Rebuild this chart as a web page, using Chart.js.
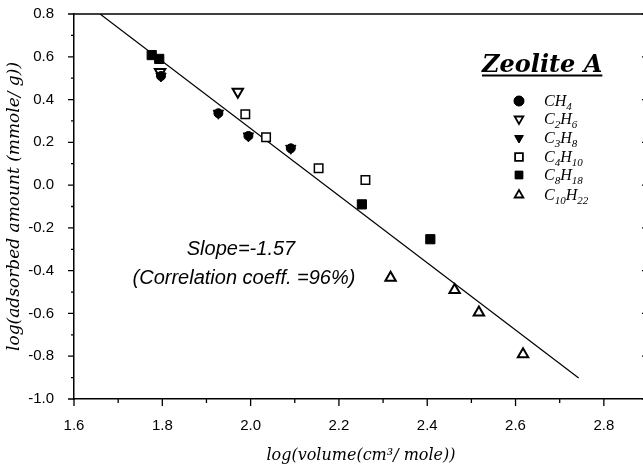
<!DOCTYPE html>
<html>
<head>
<meta charset="utf-8">
<script src="https://cdn.jsdelivr.net/npm/chart.js@4.4.0/dist/chart.umd.min.js"></script>
<style>
  html, body { margin: 0; padding: 0; background: #fff; overflow: hidden; }
  #wrap { width: 643px; height: 469px; overflow: hidden; }
</style>
</head>
<body>
<div id="wrap"><canvas id="myChart" width="656" height="469"></canvas></div>
<script>
'use strict';

// log(volume) / log(adsorbed amount)
var ch4X = [1.797, 1.927, 1.995, 2.091];
var ch4Y = [0.510, 0.336, 0.230, 0.172];
var c2h6X = [1.795, 1.971];
var c2h6Y = [0.529, 0.437];
var c3h8X = [1.797, 1.927, 1.995, 2.091];
var c3h8Y = [0.510, 0.336, 0.230, 0.172];
var c4h10X = [1.988, 2.035, 2.154, 2.260];
var c4h10Y = [0.331, 0.224, 0.079, 0.024];
var c8h18X = [1.776, 1.793, 2.252, 2.407];
var c8h18Y = [0.608, 0.590, -0.090, -0.253];
var c10h22X = [2.317, 2.462, 2.517, 2.617];
var c10h22Y = [-0.433, -0.490, -0.596, -0.791];

// fitted line ends
var fitX = [1.659, 2.743];
var fitY = [0.800, -0.902];

var legendNames = [
    [['CH', '4']],
    [['C', '2'], ['H', '6']],
    [['C', '3'], ['H', '8']],
    [['C', '4'], ['H', '10']],
    [['C', '8'], ['H', '18']],
    [['C', '10'], ['H', '22']]
];
var slopeText = ['Slope=-1.57', '(Correlation coeff. =96%)'];
var boxTitle = 'Zeolite A';

function pts(xs, ys) {
    return xs.map(function (x, i) { return { x: x, y: ys[i] }; });
}

function tenthLabel(v) {
    var n = Math.round(v * 10);
    if (n % 2 !== 0) return '';
    if (n === 0) return '0.0';
    return (n / 10).toFixed(1);
}

var sets = [
    { label: 'CH4', data: pts(ch4X, ch4Y), pointStyle: 'circle', pointRadius: 4.5, backgroundColor: '#000', borderColor: '#000', borderWidth: 1, rotation: 0 },
    { label: 'C2H6', data: pts(c2h6X, c2h6Y), pointStyle: 'triangle', pointRadius: 6, backgroundColor: '#fff', borderColor: '#000', borderWidth: 2, rotation: 180 },
    { label: 'C3H8', data: pts(c3h8X, c3h8Y), pointStyle: 'triangle', pointRadius: 6, backgroundColor: '#000', borderColor: '#000', borderWidth: 1, rotation: 180 },
    { label: 'C4H10', data: pts(c4h10X, c4h10Y), pointStyle: 'rect', pointRadius: 6, backgroundColor: '#fff', borderColor: '#000', borderWidth: 1.5, rotation: 0 },
    { label: 'C8H18', data: pts(c8h18X, c8h18Y), pointStyle: 'rect', pointRadius: 6.5, backgroundColor: '#000', borderColor: '#000', borderWidth: 1, rotation: 0 },
    { label: 'C10H22', data: pts(c10h22X, c10h22Y), pointStyle: 'triangle', pointRadius: 6, backgroundColor: '#fff', borderColor: '#000', borderWidth: 2, rotation: 0 },
    { label: 'fit', type: 'line', data: pts(fitX, fitY), borderColor: '#000', borderWidth: 1.2, pointRadius: 0, fill: false, showLine: true }
];

var frame = {
    id: 'frame',
    afterDatasetsDraw: function (chart) {
        var ctx = chart.ctx;
        var a = chart.chartArea;
        var xs = chart.scales.x, ys = chart.scales.y;
        ctx.save();
        ctx.strokeStyle = '#000';
        ctx.lineWidth = 1.5;
        ctx.beginPath();
        ctx.moveTo(a.left, a.top); ctx.lineTo(a.right, a.top);
        ctx.moveTo(a.right, a.top); ctx.lineTo(a.right, a.bottom);
        ctx.stroke();

        ctx.lineWidth = 1.3;
        ctx.beginPath();
        xs.ticks.forEach(function (t) {
            var px = xs.getPixelForValue(t.value);
            var len = Math.round(t.value * 10) % 2 === 0 ? 7 : 4;
            ctx.moveTo(px, a.bottom); ctx.lineTo(px, a.bottom + len);
        });
        ys.ticks.forEach(function (t) {
            var py = ys.getPixelForValue(t.value);
            var len = Math.round(t.value * 10) % 2 === 0 ? 6 : 3;
            ctx.moveTo(a.left - len, py); ctx.lineTo(a.left, py);
            ctx.moveTo(a.right, py); ctx.lineTo(a.right - len, py);
        });
        ctx.stroke();

        // annotation text
        ctx.fillStyle = '#000';
        ctx.textAlign = 'center';
        ctx.textBaseline = 'middle';
        ctx.font = 'italic 20px "Liberation Sans", Arial, sans-serif';
        var cx = xs.getPixelForValue(1.985);
        ctx.fillText(slopeText[0], cx - 3, ys.getPixelForValue(-0.303));
        ctx.fillText(slopeText[1], cx, ys.getPixelForValue(-0.434));

        // boxed title
        ctx.textAlign = 'left';
        ctx.textBaseline = 'alphabetic';
        ctx.font = 'italic bold 24px "DejaVu Serif", serif';
        var tx = 482, tb = 72;
        ctx.fillText(boxTitle, tx, tb);
        var tw = ctx.measureText(boxTitle).width;
        ctx.fillRect(tx, tb + 2.5, tw, 2);

        // legend
        var mx = 519, lx = 544;
        var rows = [101, 119, 138, 157, 175, 195];
        for (var i = 0; i < 6; i++) {
            var d = sets[i];
            ctx.fillStyle = d.backgroundColor;
            ctx.strokeStyle = '#000';
            ctx.lineWidth = d.backgroundColor === '#fff' ? 1.8 : 1;
            ctx.beginPath();
            Chart.helpers.drawPoint(ctx, {
                pointStyle: d.pointStyle,
                rotation: d.rotation,
                radius: d.pointStyle === 'rect' ? 5.5 : 5,
                borderWidth: 0
            }, mx, rows[i]);
            ctx.fill();
            ctx.stroke();

            ctx.fillStyle = '#000';
            var x = lx, base = rows[i] + 5;
            legendNames[i].forEach(function (part) {
                ctx.font = 'italic 16px "Liberation Serif", "Times New Roman", serif';
                ctx.fillText(part[0], x, base);
                x += ctx.measureText(part[0]).width;
                ctx.font = 'italic 11px "Liberation Serif", "Times New Roman", serif';
                ctx.fillText(part[1], x, base + 4);
                x += ctx.measureText(part[1]).width;
            });
        }
        ctx.restore();
    }
};

var ctx = document.getElementById('myChart').getContext('2d');
var chart = new Chart(ctx, {
    type: 'scatter',
    data: { datasets: sets },
    options: {
        responsive: false,
        animation: false,
        layout: { padding: { top: 14, right: 3, left: 0, bottom: 0 } },
        plugins: {
            legend: { display: false },
            tooltip: { enabled: false }
        },
        scales: {
            x: {
                type: 'linear',
                min: 1.6,
                max: 2.9,
                afterFit: function (s) {
                    s.height = 70;
                    s.paddingLeft = 0;
                    s.paddingRight = 0;
                },
                grid: { display: false },
                border: { color: '#000', width: 1.5 },
                ticks: {
                    stepSize: 0.1,
                    autoSkip: false,
                    maxRotation: 0,
                    padding: 10,
                    color: '#000',
                    font: { family: '"Liberation Sans", Arial, sans-serif', size: 15 },
                    callback: tenthLabel
                },
                title: {
                    display: true,
                    text: 'log(volume(cm³/ mole))',
                    color: '#000',
                    padding: { top: 0, bottom: 4 },
                    font: { family: '"DejaVu Serif", serif', style: 'italic', size: 16 }
                }
            },
            y: {
                type: 'linear',
                min: -1.0,
                max: 0.8,
                afterFit: function (s) {
                    s.width = 74;
                    s.paddingTop = 0;
                    s.paddingBottom = 0;
                },
                grid: { display: false },
                border: { color: '#000', width: 1.5 },
                ticks: {
                    stepSize: 0.1,
                    autoSkip: false,
                    padding: 12,
                    color: '#000',
                    font: { family: '"Liberation Sans", Arial, sans-serif', size: 15 },
                    callback: tenthLabel
                },
                title: {
                    display: true,
                    text: 'log(adsorbed amount (mmole/ g))',
                    color: '#000',
                    padding: { top: 4, bottom: 0 },
                    font: { family: '"DejaVu Serif", serif', style: 'italic', size: 17 }
                }
            }
        }
    },
    plugins: [frame]
});
</script>
</body>
</html>
